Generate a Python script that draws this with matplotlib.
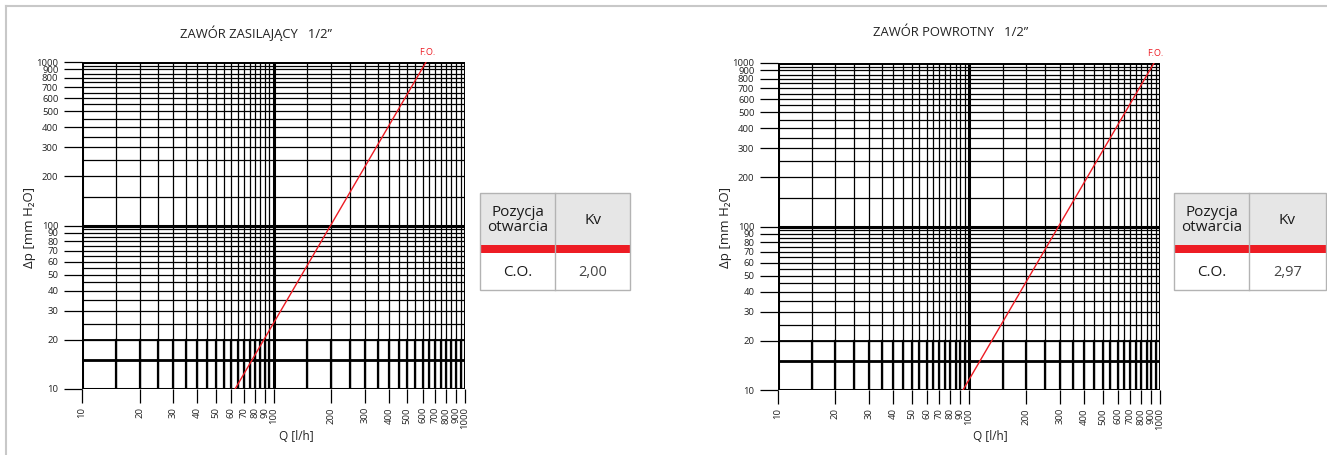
import numpy as np
import matplotlib
matplotlib.use("Agg")
import matplotlib.pyplot as plt
from matplotlib.patches import Rectangle
from matplotlib.lines import Line2D

plt.rcParams["font.family"] = ["Open Sans", "DejaVu Sans"]

# dane
titles = ["ZAWÓR ZASILAJĄCY   1/2”", "ZAWÓR POWROTNY   1/2”"]
q_supply = [63, 626]      # Q [l/h] dla dp = 10 i 1000
q_return = [93, 930]
dp_line = [10, 1000]
kv_values = ["2,00", "2,97"]
position = "C.O."

x_ticks = [10, 20, 30, 40, 50, 60, 70, 80, 90, 100,
           200, 300, 400, 500, 600, 700, 800, 900, 1000]
y_ticks = x_ticks
grid_low = list(range(10, 100, 5))
grid_high = list(range(100, 1001, 50))

RED = "#ed1c24"
W, H = 1327, 455

fig = plt.figure(figsize=(W / 100, H / 100), dpi=100)


def px(x, y):
    return x / W, 1 - y / H


# ramka
fig.add_artist(Line2D([6 / W, 1], [1 - 6 / H, 1 - 6 / H], color="#c8c8c8", lw=1.5))
fig.add_artist(Line2D([6 / W, 6 / W], [0, 1 - 6 / H], color="#c8c8c8", lw=1.5))


def chart(left, top, right, bottom, title, q, fo_dx, xlabel_x, ylabel_x):
    x0, y1 = px(left, top)
    x1, y0 = px(right, bottom)
    ax = fig.add_axes([x0, y0, x1 - x0, y1 - y0])
    ax.set_xscale("log")
    ax.set_yscale("log")
    ax.set_xlim(10, 1000)
    ax.set_ylim(10, 1000)

    for v in grid_low + grid_high:
        major = v in (10, 100, 1000)
        ax.axvline(v, color="black", lw=2.2 if major else 0.9, zorder=1)
        ax.axhline(v, color="black", lw=2.2 if major else 0.9, zorder=1)
        if not major:
            ax.plot([v, v], [10, 20], color="black", lw=1.6, zorder=1)
    ax.axhline(15, color="black", lw=2.0, zorder=1)
    ax.axhline(20, color="black", lw=1.3, zorder=1)

    ax.plot(q, dp_line, color=RED, lw=1.0, zorder=3)
    ax.text(q[1] + fo_dx, 1080, "F.O.", color=RED, fontsize=6.5,
            ha="center", va="bottom")

    for s in ax.spines.values():
        s.set_visible(False)

    ax.set_xticks(x_ticks)
    ax.set_xticklabels([str(v) for v in x_ticks], rotation=90)
    ax.set_yticks(y_ticks)
    ax.set_yticklabels([str(v) for v in y_ticks])
    ax.minorticks_off()
    ax.tick_params(axis="y", length=13, width=0.9, pad=4, labelsize=6.8,
                   labelcolor="#222222")
    ax.tick_params(axis="x", length=10, width=0.9, pad=3, labelsize=6.8,
                   labelcolor="#222222")

    fig.text(*px(ylabel_x, 227), "Δp [mm H₂O]", fontsize=9.5, rotation=90,
             ha="center", va="center", color="#222222")
    fig.text(*px(xlabel_x, 437), "Q [l/h]", fontsize=8.5, ha="center", va="center",
             color="#222222")
    fig.text(*px((left + right) / 2 - 18, 33), title, fontsize=9.4, ha="center",
             va="center", color="#222222")
    return ax


def table(left, mid, right, kv):
    top, head, band, bottom = 193, 245, 253, 290
    gray = "#b3b3b3"
    x0, y0 = px(left, head)
    x1, y1 = px(right, top)
    fig.add_artist(Rectangle((x0, y0), x1 - x0, y1 - y0, transform=fig.transFigure,
                             facecolor="#e6e6e6", edgecolor="none"))
    x0, y0 = px(left, band)
    x1, y1 = px(right, head)
    fig.add_artist(Rectangle((x0, y0), x1 - x0, y1 - y0, transform=fig.transFigure,
                             facecolor=RED, edgecolor="none"))
    x0, y0 = px(left, bottom)
    x1, y1 = px(right, top)
    fig.add_artist(Rectangle((x0, y0), x1 - x0, y1 - y0, transform=fig.transFigure,
                             facecolor="none", edgecolor=gray, lw=1.0))
    mx, _ = px(mid, 0)
    fig.add_artist(Line2D([mx, mx], [1 - bottom / H, 1 - top / H], color=gray, lw=1.0))

    c1 = (left + mid) / 2
    c2 = (mid + right) / 2
    fig.text(*px(c1, 220), "Pozycja\notwarcia", fontsize=11, ha="center", va="center",
             linespacing=1.05, color="#1a1a1a")
    fig.text(*px(c2, 220), "Kv", fontsize=11, ha="center", va="center", color="#1a1a1a")
    fig.text(*px(c1, 272), position, fontsize=11, ha="center", va="center", color="#1a1a1a")
    fig.text(*px(c2, 272), kv, fontsize=10.5, ha="center", va="center", color="#444444")


chart(82, 62, 465, 389, titles[0], q_supply, 10, 296, 30)
chart(778, 63, 1160, 390, titles[1], q_return, 12, 990, 725)
table(480, 555, 630, kv_values[0])
table(1174, 1249, 1326, kv_values[1])

fig.savefig("out.png", dpi=100)
